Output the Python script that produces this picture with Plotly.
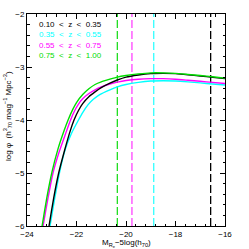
import plotly.graph_objects as go

# Luminosity-function curves (M, log phi)
mag_black = [-23.27, -23.11, -22.92, -22.72, -22.48, -22.25, -22.10, -21.92, -21.75, -21.5, -21.25, -21.0,
             -20.65, -20.35, -20.0, -19.5, -19.0, -18.5, -18.0, -17.5, -17.0, -16.5, -16.0]
phi_black = [-6.50, -6.00, -5.47, -5.00, -4.57, -4.20, -4.00, -3.82, -3.69, -3.56, -3.47, -3.39,
             -3.305, -3.245, -3.19, -3.15, -3.125, -3.12, -3.125, -3.145, -3.17, -3.195, -3.22]

mag_cyan = [-23.23, -23.07, -22.88, -22.69, -22.45, -22.2, -21.92, -21.75, -21.53, -21.32, -21.06,
            -20.65, -20.35, -20.0, -19.5, -19.0, -18.5, -18.0, -17.5, -17.0, -16.5, -16.0]
phi_cyan = [-6.45, -6.00, -5.48, -5.00, -4.55, -4.25, -4.00, -3.86, -3.71, -3.61, -3.52,
            -3.43, -3.375, -3.33, -3.29, -3.265, -3.26, -3.265, -3.28, -3.30, -3.32, -3.34]

mag_magenta = [-23.51, -23.35, -23.15, -22.95, -22.7, -22.45, -22.24, -22.08, -21.92, -21.75, -21.5, -21.25,
               -21.0, -20.65, -20.35, -20.0, -19.5, -19.0, -18.5, -18.0, -17.5, -17.0, -16.5, -16.0]
phi_magenta = [-6.50, -6.00, -5.47, -5.00, -4.60, -4.27, -4.00, -3.83, -3.70, -3.60, -3.50, -3.43,
               -3.375, -3.32, -3.285, -3.255, -3.23, -3.22, -3.22, -3.23, -3.25, -3.27, -3.29, -3.31]

mag_green = [-23.55, -23.39, -23.2, -22.99, -22.75, -22.5, -22.34, -22.15, -22.0, -21.75, -21.5, -21.25,
             -21.0, -20.65, -20.35, -20.0, -19.5, -19.0, -18.5, -18.0, -17.5, -17.0, -16.5, -16.0]
phi_green = [-6.51, -6.00, -5.47, -4.98, -4.55, -4.20, -4.00, -3.80, -3.67, -3.52, -3.41, -3.33,
             -3.28, -3.23, -3.19, -3.16, -3.13, -3.11, -3.11, -3.12, -3.14, -3.16, -3.185, -3.21]

# Magnitude limits (vertical dashed lines)
limit_mags = [-16.58, -18.88, -19.76, -20.35]

labels = ["0.10  <  z  <  0.35", "0.35  <  z  <  0.55", "0.55  <  z  <  0.75", "0.75  <  z  <  1.00"]
colors = ["#000000", "#00ffff", "#ff00ff", "#00dd00"]
vcolors = ["#000000", "#33ffff", "#ff44ff", "#22dd22"]

x_ticks = [-24, -22, -20, -18, -16]
y_ticks = [-6, -5, -4, -3, -2]

fig = go.Figure()

for v, c in zip(limit_mags, vcolors):
    fig.add_trace(go.Scatter(x=[v, v], y=[-6, -2], mode="lines",
                             line=dict(color=c, width=1.3, dash="8px,3px"),
                             showlegend=False, hoverinfo="skip"))

curves = [(mag_cyan, phi_cyan, colors[1]), (mag_magenta, phi_magenta, colors[2]),
          (mag_black, phi_black, colors[0]), (mag_green, phi_green, colors[3])]
for mx, py, c in curves:
    fig.add_trace(go.Scatter(x=mx, y=py, mode="lines",
                             line=dict(color=c, width=1.4, shape="spline", smoothing=0.5),
                             showlegend=False, hoverinfo="skip"))

font = "Liberation Sans"
for i, (lab, c) in enumerate(zip(labels, colors)):
    fig.add_annotation(xref="paper", yref="paper", x=0.048, y=0.951 - i * 0.049,
                       xanchor="left", yanchor="middle", text=lab, showarrow=False,
                       font=dict(family=font, size=8, color=c))

fig.add_annotation(xref="paper", yref="paper", x=0.5, y=-0.045, xanchor="center", yanchor="top",
                   text="M<sub>R<sub>e</sub></sub>−5log(h<sub>70</sub>)", showarrow=False,
                   font=dict(family=font, size=8, color="black"))
fig.add_annotation(xref="paper", yref="paper", x=-0.095, y=0.52, xanchor="center", yanchor="middle",
                   text="log φ  (h<sup>3</sup><sub>70</sub> mag<sup>−1</sup> Mpc<sup>−3</sup>)",
                   textangle=-90, showarrow=False,
                   font=dict(family=font, size=8, color="black"))

axis_common = dict(showgrid=False, zeroline=False, showline=True, linecolor="black", linewidth=1,
                   mirror="allticks", ticks="inside", ticklen=5, tickcolor="black", tickwidth=1,
                   tickfont=dict(family=font, size=8, color="black"))

fig.update_xaxes(range=[-24, -16], tickvals=x_ticks, ticktext=["−24", "−22", "−20", "−18", "−16"],
                 minor=dict(dtick=0.4, tick0=-24, ticks="inside", ticklen=2.5, tickcolor="black"),
                 **axis_common)
fig.update_yaxes(range=[-6, -2], tickvals=y_ticks, ticktext=["−6", "−5", "−4", "−3", "−2"],
                 minor=dict(dtick=0.2, tick0=-6, ticks="inside", ticklen=2.5, tickcolor="black"),
                 **axis_common)

fig.update_layout(width=249, height=249, margin=dict(l=27, r=24, t=10, b=23),
                  paper_bgcolor="white", plot_bgcolor="white")

fig.write_html("out.html", config={"displayModeBar": False},
               post_script="document.body.style.margin='0';")
